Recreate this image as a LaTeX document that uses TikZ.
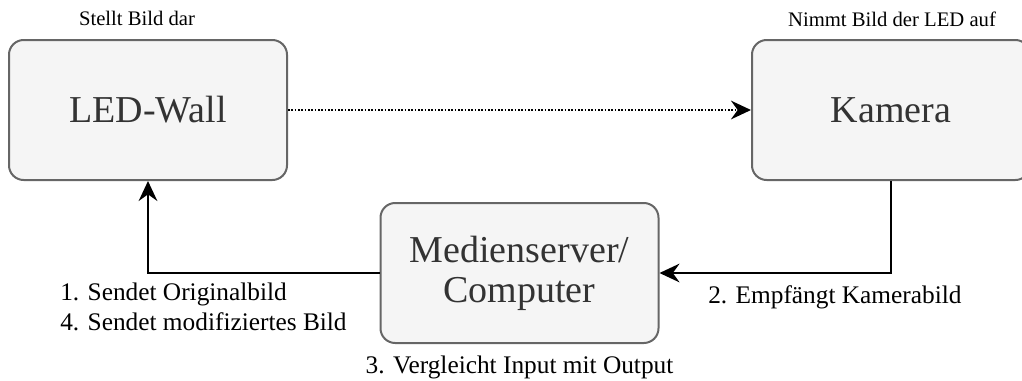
\documentclass[tikz,border=0pt]{standalone}
\usepackage{fontspec}
\setmainfont{Liberation Serif}
\usetikzlibrary{arrows.meta}
\definecolor{boxfill}{HTML}{F5F5F5}
\definecolor{boxline}{HTML}{666666}
\definecolor{boxtext}{HTML}{333333}
\tikzstyle{box} = [rectangle, rounded corners=11pt, minimum width=208.5pt, minimum height=105pt, text centered, align=center, draw=boxline, fill=boxfill, line width=1.5pt, text=boxtext, inner sep=0pt, font=\fontsize{28.5}{30}\selectfont]
\tikzstyle{arrow} = [line width=1.5pt, -{Stealth[length=15pt,width=14pt,inset=5pt]}]
\tikzstyle{lbl} = [inner sep=0pt, font=\fontsize{19}{22.5}\selectfont]
\tikzstyle{toplbl} = [inner sep=0pt, font=\fontsize{15.5}{18}\selectfont]

\begin{document}
\begin{tikzpicture}[x=0.75pt, y=-0.75pt]
\useasboundingbox (0,0) rectangle (1022,380);
% boxes
\node[box] (led) at (148,110) {LED-Wall};
\node[box] (kam) at (891,110) {Kamera};
\node[box] (srv) at (519.5,273) {Medienserver/\\Computer};
% labels
\node[toplbl, anchor=base] (ledtxt) at (137,25) {Stellt Bild dar};
\node[toplbl, anchor=base] (kamtxt) at (892,26) {Nimmt Bild der LED auf};
\node[lbl, anchor=base west] (send1) at (60,300) {1. Sendet Originalbild};
\node[lbl, anchor=base west] (send4) at (60,330) {4. Sendet modifiziertes Bild};
\node[lbl, anchor=base west] (recv) at (708,303) {2. Empfängt Kamerabild};
\node[lbl, anchor=base] (cmp) at (519.5,373) {3. Vergleicht Input mit Output};
% connectors
\draw[arrow, dash pattern=on 1.3pt off 1.2pt] (led) -- (kam);
\draw[arrow] (kam.south) |- (srv.east);
\draw[arrow] (srv.west) -| (led.south);
\end{tikzpicture}
\end{document}
